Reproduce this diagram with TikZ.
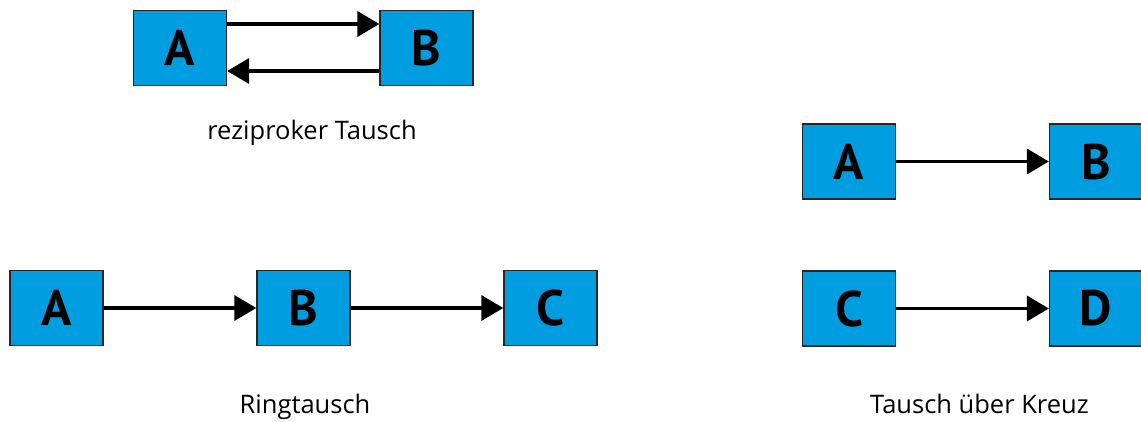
\documentclass[tikz,border=0pt]{standalone}
\usepackage{fontspec}
\setmainfont{PT Sans}
\newfontfamily\lblfont{Open Sans}
\usetikzlibrary{arrows.meta}
\definecolor{boxblue}{RGB}{0,158,224}
\tikzset{
  box/.style={draw=black!85, fill=boxblue, line width=1.3pt, minimum width=93pt, minimum height=75pt, inner sep=0pt, font=\fontsize{50}{50}\selectfont\bfseries},
  conn/.style={line width=3.6pt, -{Triangle[length=22pt,width=25pt]}, shorten >=0pt},
  lbl/.style={font=\lblfont\fontsize{25.5}{25.5}\selectfont, inner sep=0pt, anchor=base}
}
\begin{document}
\begin{tikzpicture}[x=1pt,y=-1pt]
\useasboundingbox (0,0) rectangle (1141,421);
% reziproker Tausch
\node[box] (ra) at (180,48) {A};
\node[box] (rb) at (426.5,48) {B};
\draw[conn] ([yshift=24pt]ra.east) -- ([yshift=24pt]rb.west);
\draw[conn] ([yshift=-23pt]rb.west) -- ([yshift=-23pt]ra.east);
\node[lbl] (rl) at (312,139) {reziproker Tausch};
% Ringtausch
\node[box] (ga) at (56.5,308) {A};
\node[box] (gb) at (303.5,308) {B};
\node[box] (gc) at (550.5,308) {C};
\draw[conn] (ga) -- (gb);
\draw[conn] (gb) -- (gc);
\node[lbl] (gl) at (305,413.5) {Ringtausch};
% Tausch ueber Kreuz
\node[box] (ka) at (849,161.5) {A};
\node[box] (kb) at (1096,161.5) {B};
\node[box] (kc) at (849,308.5) {C};
\node[box] (kd) at (1096,308.5) {D};
\draw[conn] (ka) -- (kb);
\draw[conn] (kc) -- (kd);
\node[lbl] (kl) at (979.5,413.5) {Tausch über Kreuz};
\end{tikzpicture}
\end{document}
